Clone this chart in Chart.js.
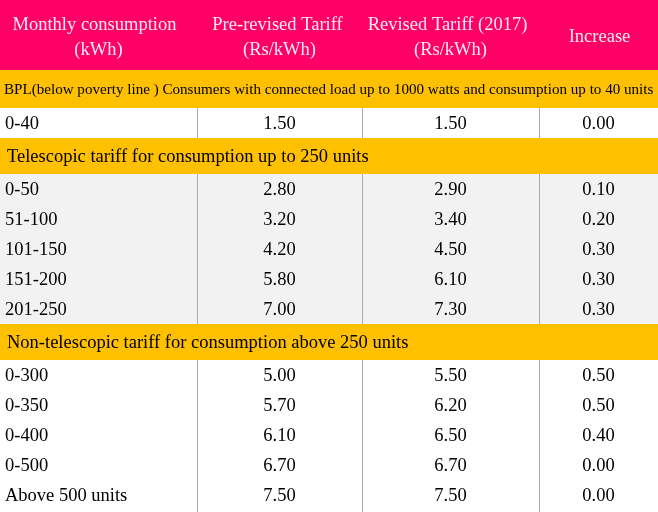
<!DOCTYPE html>
<html>
<head>
<meta charset="utf-8">
<script src="https://cdn.jsdelivr.net/npm/chart.js@4.4.1/dist/chart.umd.min.js"></script>
<style>
  html, body { margin: 0; padding: 0; background: #fff; }
  #wrap { width: 658px; height: 512px; position: relative; }
</style>
</head>
<body>
<div id="wrap"><canvas id="cntTarifa"></canvas></div>
<script>
  // column headings
  const headers = [
    ['Monthly consumption', '(kWh)'],
    ['Pre-revised Tariff', '(Rs/kWh)'],
    ['Revised Tariff (2017)', '(Rs/kWh)'],
    ['Increase']
  ];

  // section titles
  const sections = [
    'BPL(below poverty line ) Consumers with connected load up to 1000 watts and consumption up to 40 units',
    'Telescopic tariff for consumption up to 250 units',
    'Non-telescopic tariff for consumption above 250 units'
  ];

  // BPL
  const slabsBpl = ['0-40'];
  const preBpl = [1.50];
  const revBpl = [1.50];
  const incBpl = [0.00];

  // telescopic
  const slabsTel = ['0-50', '51-100', '101-150', '151-200', '201-250'];
  const preTel = [2.80, 3.20, 4.20, 5.80, 7.00];
  const revTel = [2.90, 3.40, 4.50, 6.10, 7.30];
  const incTel = [0.10, 0.20, 0.30, 0.30, 0.30];

  // non telescopic
  const slabsNon = ['0-300', '0-350', '0-400', '0-500', 'Above 500 units'];
  const preNon = [5.00, 5.70, 6.10, 6.70, 7.50];
  const revNon = [5.50, 6.20, 6.50, 6.70, 7.50];
  const incNon = [0.50, 0.50, 0.40, 0.00, 0.00];

  // layout (table units)
  const colEdges = [0, 197, 362, 539, 658];
  const headShift = [-4, -2, -3, 1];
  const headH = 70, secH = [38, 36, 36], rowH = 30;

  const groups = [
    { title: sections[0], slabs: slabsBpl, pre: preBpl, rev: revBpl, inc: incBpl, fill: '#FFFFFF', size: 15.1 },
    { title: sections[1], slabs: slabsTel, pre: preTel, rev: revTel, inc: incTel, fill: '#F2F2F2', size: 18.5 },
    { title: sections[2], slabs: slabsNon, pre: preNon, rev: revNon, inc: incNon, fill: '#FFFFFF', size: 18.5 }
  ];

  const FONT = '"Liberation Serif", "Times New Roman", serif';

  const tablaPlugin = {
    id: 'tabla',
    beforeDatasetsDraw(chart) {
      const ctx = chart.ctx, sx = chart.scales.x, sy = chart.scales.y;
      const X = v => sx.getPixelForValue(v), Y = v => sy.getPixelForValue(v);
      const rect = (x0, y0, x1, y1, c) => {
        ctx.fillStyle = c;
        ctx.fillRect(X(x0), Y(y0), X(x1) - X(x0), Y(y1) - Y(y0));
      };
      const text = (t, x, y, align, size, color) => {
        ctx.font = size + 'px ' + FONT;
        ctx.fillStyle = color;
        ctx.textAlign = align;
        ctx.textBaseline = 'middle';
        ctx.fillText(t, X(x), Y(y));
      };
      ctx.save();

      // header
      rect(0, 0, 658, headH, '#FF0066');
      headers.forEach((h, i) => {
        const cx = (colEdges[i] + colEdges[i + 1]) / 2;
        if (h.length === 2) {
          text(h[0], cx + headShift[i], 25, 'center', 18.5, '#FFEAF2');
          text(h[1], cx, 50, 'center', 18.5, '#FFEAF2');
        } else {
          text(h[0], cx + headShift[i], 37, 'center', 18.5, '#FFEAF2');
        }
      });

      let y = headH;
      groups.forEach((g, gi) => {
        rect(0, y, 658, y + secH[gi], '#FFC000');
        text(g.title, gi === 0 ? 4 : 7, y + secH[gi] / 2 + 1, 'left', g.size, '#000');
        y += secH[gi];
        const top = y;
        g.slabs.forEach((s, r) => {
          const y0 = y, y1 = y + rowH;
          rect(0, y0, 658, y1, g.fill);
          const cy = (y0 + y1) / 2 + 1;
          text(s, 5, cy, 'left', 18.5, '#000');
          [g.pre[r], g.rev[r], g.inc[r]].forEach((v, c) => {
            text(v.toFixed(2), (colEdges[c + 1] + colEdges[c + 2]) / 2, cy, 'center', 18.5, '#000');
          });
          y = y1;
        });
        // vertical rules
        ctx.strokeStyle = '#ABABAB';
        ctx.lineWidth = 1;
        colEdges.slice(1, 4).forEach(cx => {
          ctx.beginPath();
          ctx.moveTo(Math.round(X(cx)) + 0.5, Y(top));
          ctx.lineTo(Math.round(X(cx)) + 0.5, Y(gi === 2 ? 512 : y));
          ctx.stroke();
        });
      });
      ctx.restore();
    }
  };

  function dibujar() {
    new Chart(document.getElementById('cntTarifa').getContext('2d'), {
      type: 'scatter',
      data: { datasets: [{ data: [], pointRadius: 0 }] },
      options: {
        responsive: true,
        maintainAspectRatio: false,
        animation: false,
        layout: { padding: 0 },
        plugins: { legend: { display: false }, tooltip: { enabled: false } },
        scales: {
          x: { type: 'linear', min: 0, max: 658, display: false },
          y: { type: 'linear', min: 0, max: 512, reverse: true, display: false }
        }
      },
      plugins: [tablaPlugin]
    });
  }

  if (document.fonts && document.fonts.load) {
    document.fonts.load('18px "Liberation Serif"').then(dibujar, dibujar);
  } else {
    dibujar();
  }
</script>
</body>
</html>
